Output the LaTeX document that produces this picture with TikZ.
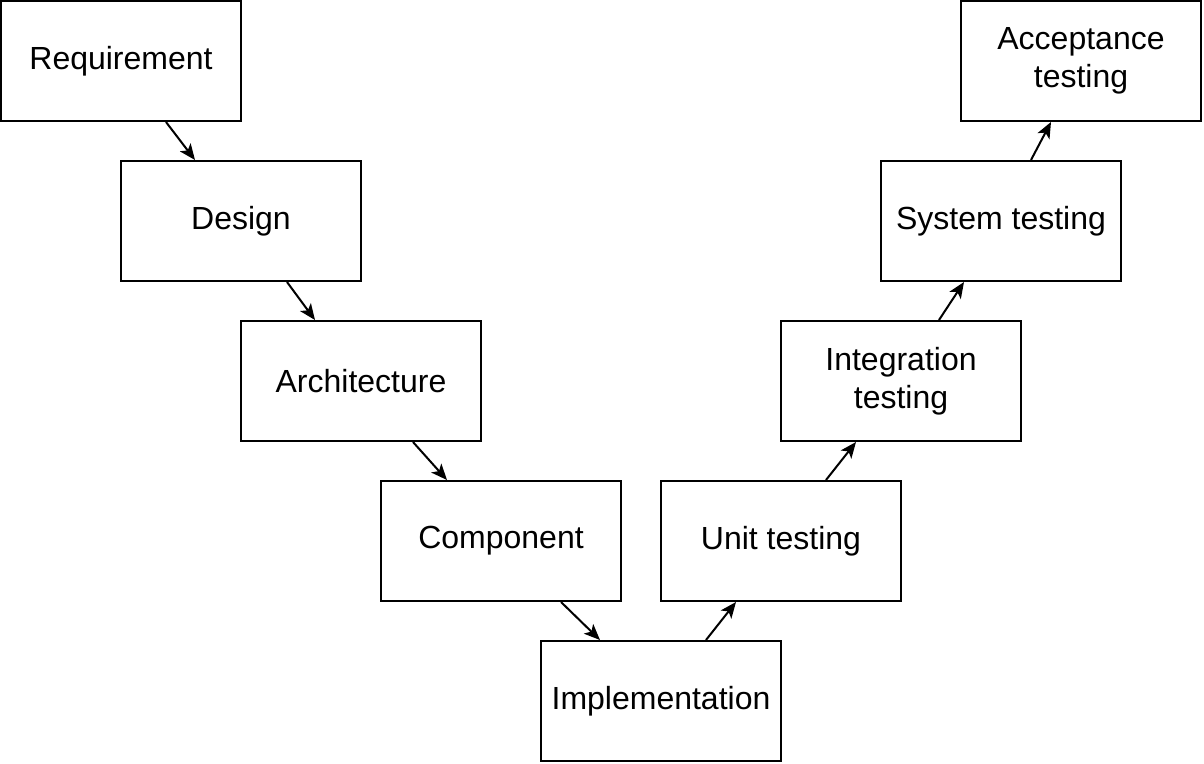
\documentclass[tikz,border=0pt]{standalone}
\usepackage{fontspec}
\setmainfont{Liberation Sans}
\usetikzlibrary{arrows.meta,calc}
\begin{document}
\begin{tikzpicture}[x=0.75pt,y=-0.75pt,
  stage/.style={draw,line width=1.5pt,minimum width=180pt,minimum height=90pt,inner sep=0pt,align=center,font=\fontsize{24}{28.5}\selectfont},
  flow/.style={line width=1.5pt,-{Stealth[length=12pt,width=10pt,inset=3pt]}}]
\useasboundingbox[fill=white] (0,0) rectangle (1204,764);
\node[stage] (req) at (121,61) {Requirement};
\node[stage] (des) at (241,221) {Design};
\node[stage] (arc) at (361,381) {Architecture};
\node[stage] (com) at (501,541) {Component};
\node[stage] (imp) at (661,701) {Implementation};
\node[stage] (uni) at (781,541) {Unit testing};
\node[stage] (int) at (901,381) {Integration\\testing};
\node[stage] (sys) at (1001,221) {System testing};
\node[stage] (acc) at (1081,61) {Acceptance\\testing};
\draw[flow] ([xshift=33.75pt]req.south) -- ([xshift=-34.5pt]des.north);
\draw[flow] ([xshift=34.5pt]des.south) -- ([xshift=-34.5pt]arc.north);
\draw[flow] ([xshift=39pt]arc.south) -- ([xshift=-40.5pt]com.north);
\draw[flow] ([xshift=45pt]com.south) -- ([xshift=-45.75pt]imp.north);
\draw[flow] ([xshift=33.75pt]imp.north) -- ([xshift=-33.75pt]uni.south);
\draw[flow] ([xshift=33.75pt]uni.north) -- ([xshift=-33.75pt]int.south);
\draw[flow] ([xshift=28.5pt]int.north) -- ([xshift=-27.75pt]sys.south);
\draw[flow] ([xshift=22.5pt]sys.north) -- ([xshift=-22.5pt]acc.south);
\end{tikzpicture}
\end{document}
